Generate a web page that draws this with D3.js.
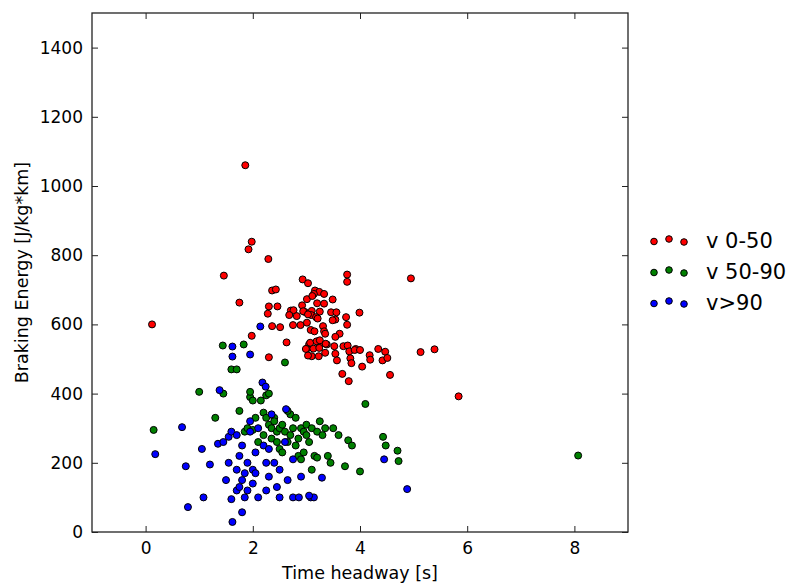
<!DOCTYPE html>
<html>
<head>
<meta charset="utf-8">
<script src="https://cdn.jsdelivr.net/npm/d3@7"></script>
<style>
  html, body { margin: 0; padding: 0; background: #fff; }
  svg { display: block; }
  text { font-family: "DejaVu Sans", sans-serif; fill: #000; }
</style>
</head>
<body>
<svg id="chart" width="792" height="583"></svg>
<script>
// Braking energy vs. time headway, split by speed band
const seriesNames = ["v 0-50", "v 50-90", "v>90"];
const seriesColors = ["#ff0000", "#008000", "#0000ff"];

// [time headway (s), braking energy (J/kg*km)]
const speedLow = [
  [0.12,600],[1.86,1060],[1.98,839],[1.92,817],[2.29,789],[1.46,741],[2.93,730],[3.03,719],
  [3.76,744],[3.76,723],[1.75,663],[2.36,698],[2.43,701],[3.16,698],[3.24,694],[3.33,688],
  [3.14,688],[3.49,672],[3.01,673],[3.20,661],[3.33,660],[2.92,655],[2.30,652],[2.46,652],
  [2.28,631],[2.71,640],[2.76,641],[2.68,627],[2.82,624],[2.97,636],[3.10,639],[3.25,637],
  [3.09,627],[3.18,621],[3.46,635],[3.56,635],[3.54,614],[3.49,612],[3.74,621],[3.76,599],
  [3.99,634],[2.75,598],[2.89,598],[3.01,605],[3.21,617],[2.36,595],[2.51,592],[3.08,584],
  [3.15,580],[3.31,595],[3.33,580],[3.35,573],[3.62,573],[3.54,564],[1.98,567],[2.63,548],
  [3.05,542],[3.23,551],[3.25,542],[3.38,542],[3.52,537],[3.69,537],[3.77,539],[3.92,529],
  [3.01,530],[3.13,530],[4.95,733],[3.80,522],[3.90,526],[4.00,526],[3.54,515],[3.57,496],
  [3.82,502],[3.84,488],[3.67,457],[3.79,436],[4.04,478],[4.18,511],[4.19,498],[4.34,529],
  [4.47,521],[4.42,496],[4.51,503],[4.56,454],[5.13,520],[5.39,528],[5.84,392],[3.11,682],
  [2.94,638],[3.03,629],[3.07,547],[3.19,551],[3.25,554],[3.36,544],[2.99,529],[3.24,532],
  [3.35,518],[3.10,508],[3.23,508],[3.03,510],[2.30,505]
];

const speedMid = [
  [0.15,295],[1.00,405],[1.30,330],[1.45,400],[1.44,539],[1.60,470],[1.70,470],[1.83,542],
  [1.75,350],[1.85,290],[1.90,300],[1.95,390],[1.95,405],[2.00,380],[2.05,330],[2.10,260],
  [2.15,380],[2.20,345],[2.25,330],[2.25,395],[2.30,400],[2.30,310],[2.35,300],[2.35,270],
  [2.40,330],[2.40,320],[2.45,290],[2.45,260],[2.50,300],[2.50,240],[2.55,310],[2.60,290],
  [2.60,490],[2.65,260],[2.70,340],[2.70,280],[2.75,300],[2.80,330],[2.80,250],[2.85,220],
  [2.85,270],[2.90,300],[2.90,210],[2.95,230],[2.95,290],[3.00,280],[3.00,310],[3.05,260],
  [3.10,180],[3.10,300],[3.15,220],[3.20,290],[3.25,320],[3.30,280],[3.35,300],[3.40,220],
  [3.45,200],[3.50,300],[3.60,280],[3.72,190],[3.78,265],[3.85,250],[4.00,175],[4.10,370],
  [4.43,275],[4.48,250],[4.70,235],[4.72,205],[8.07,221],[2.00,295],[2.20,280],[2.55,230],
  [2.65,350],[3.20,215]
];

const speedHigh = [
  [0.18,225],[0.68,303],[0.75,190],[0.79,72],[1.05,240],[1.08,100],[1.20,195],[1.35,255],
  [1.38,410],[1.50,150],[1.55,275],[1.55,200],[1.60,290],[1.60,95],[1.62,29],[1.62,536],
  [1.62,507],[1.70,180],[1.70,120],[1.75,220],[1.80,57],[1.80,150],[1.80,250],[1.85,100],
  [1.85,170],[1.90,200],[1.90,120],[1.95,513],[1.95,290],[2.00,180],[2.00,140],[2.05,230],
  [2.10,100],[2.10,300],[2.14,594],[2.18,432],[2.24,420],[2.20,250],[2.25,200],[2.25,120],
  [2.30,160],[2.35,340],[2.40,200],[2.45,130],[2.50,180],[2.50,100],[2.60,260],[2.65,150],
  [2.62,355],[2.75,210],[2.75,100],[2.86,100],[2.90,160],[3.08,100],[3.14,100],[3.05,105],
  [3.29,157],[4.45,210],[4.88,124],[1.45,260],[1.70,280],[1.95,320],[2.05,170],[1.75,130],
  [2.30,240]
];

const xTicks = [0, 2, 4, 6, 8];
const yTicks = [0, 200, 400, 600, 800, 1000, 1200, 1400];

const svg = d3.select("#chart");
const plotLeft = 92, plotRight = 628, plotTop = 13, plotBottom = 532;

const x = d3.scaleLinear().domain([-1, 9]).range([plotLeft, plotRight]);
const y = d3.scaleLinear().domain([0, 1500]).range([plotBottom, plotTop]);

const tickLen = 6;
const axisColor = "#222";

// frame
svg.append("rect")
  .attr("x", plotLeft).attr("y", plotTop)
  .attr("width", plotRight - plotLeft).attr("height", plotBottom - plotTop)
  .attr("fill", "none").attr("stroke", axisColor).attr("stroke-width", 1.3);

// axes with inward ticks on all four sides
function styleAxis(g) {
  g.select(".domain").remove();
  g.selectAll(".tick line").attr("stroke", axisColor).attr("stroke-width", 1);
}
svg.append("g").attr("transform", `translate(0,${plotBottom})`)
  .call(d3.axisBottom(x).tickValues(xTicks).tickSize(-tickLen).tickPadding(tickLen + 4).tickFormat(d3.format("d")))
  .call(styleAxis)
  .selectAll("text").attr("font-size", 17).attr("font-family", "DejaVu Sans").attr("fill", "#000");
svg.append("g").attr("transform", `translate(0,${plotTop})`)
  .call(d3.axisTop(x).tickValues(xTicks).tickSize(-tickLen).tickFormat(""))
  .call(styleAxis);
svg.append("g").attr("transform", `translate(${plotLeft},0)`)
  .call(d3.axisLeft(y).tickValues(yTicks).tickSize(-tickLen).tickPadding(tickLen + 3).tickFormat(d3.format("d")))
  .call(styleAxis)
  .selectAll("text").attr("font-size", 17).attr("font-family", "DejaVu Sans").attr("fill", "#000");
svg.append("g").attr("transform", `translate(${plotRight},0)`)
  .call(d3.axisRight(y).tickValues(yTicks).tickSize(-tickLen).tickFormat(""))
  .call(styleAxis);

// axis titles
svg.append("text")
  .attr("x", (plotLeft + plotRight) / 2).attr("y", 579)
  .attr("text-anchor", "middle").attr("font-size", 17.5)
  .text("Time headway [s]");
svg.append("text")
  .attr("transform", `translate(28,${(plotTop + plotBottom) / 2}) rotate(-90)`)
  .attr("text-anchor", "middle").attr("font-size", 17.5)
  .text("Braking Energy [J/kg*km]");

// scatter points, clipped to the plot area
svg.append("clipPath").attr("id", "plotClip")
  .append("rect").attr("x", plotLeft).attr("y", plotTop)
  .attr("width", plotRight - plotLeft).attr("height", plotBottom - plotTop);
const plot = svg.append("g").attr("clip-path", "url(#plotClip)");
[speedLow, speedMid, speedHigh].forEach((data, i) => {
  plot.append("g").selectAll("circle").data(data).join("circle")
    .attr("cx", d => x(d[0])).attr("cy", d => y(d[1])).attr("r", 3.5)
    .attr("fill", seriesColors[i]).attr("stroke", "#000").attr("stroke-width", 1);
});

// legend: three sample markers per entry
const legend = svg.append("g");
const markerX = [654, 669, 684];
const markerDy = [1.5, -1, 2];
seriesNames.forEach((name, i) => {
  const cy = 240 + i * 31;
  markerX.forEach((mx, k) => {
    legend.append("circle")
      .attr("cx", mx).attr("cy", cy + markerDy[k]).attr("r", 3.3)
      .attr("fill", seriesColors[i]).attr("stroke", "#000").attr("stroke-width", 1);
  });
  legend.append("text")
    .attr("x", 706).attr("y", cy + 7.5)
    .attr("font-size", 21)
    .text(name);
});
</script>
</body>
</html>
